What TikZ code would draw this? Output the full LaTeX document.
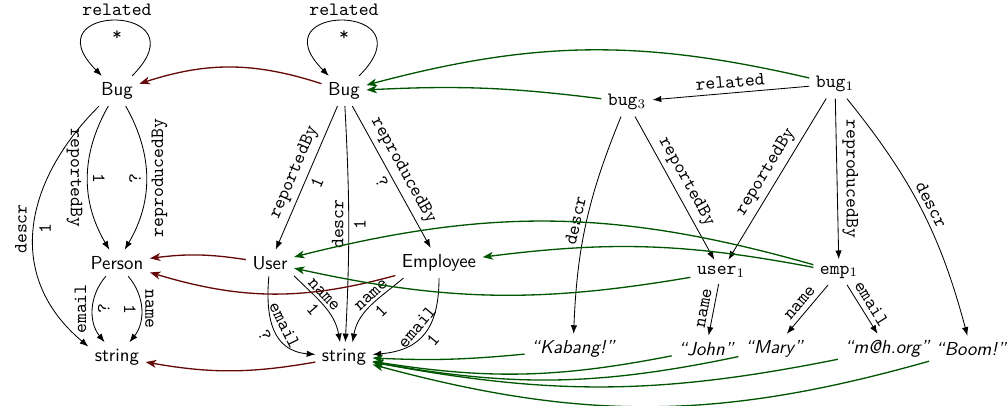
\documentclass[tikz,border=0pt]{standalone}
\usetikzlibrary{arrows.meta}
\definecolor{mapred}{RGB}{100,8,8}
\definecolor{mapgreen}{RGB}{0,85,0}
\begin{document}
\begin{tikzpicture}[x=0.5319pt,y=0.5319pt,
  ty/.style={font=\sffamily},
  obj/.style={font=\ttfamily},
  lit/.style={font=\sffamily\itshape},
  lab/.style={font=\ttfamily, inner sep=2.6pt},
  arr/.style={-{Latex[length=4.6pt,width=3.4pt]}, line width=0.45pt},
  tored/.style={-{Stealth[length=5.6pt,width=4.2pt,inset=1.6pt]}, draw=mapred, line width=0.7pt},
  togreen/.style={-{Stealth[length=5.6pt,width=4.2pt,inset=1.6pt]}, draw=mapgreen, line width=0.7pt},
]
\useasboundingbox (0,-405) rectangle (1007,0);

% schema on the left
\node[ty] (BugL)   at (117,-91)  {Bug};
\node[ty] (Person) at (117,-263) {Person};
\node[ty] (StrL)   at (117,-357) {string};

% schema in the middle
\node[ty] (BugM) at (344,-91)  {Bug};
\node[ty] (User) at (270,-263) {User};
\node[ty] (Emp)  at (439,-263) {Employee};
\node[ty] (StrM) at (344,-357) {string};

% objects
\node[obj] (bugC)  at (627,-102) {bug$_3$};
\node[obj] (bugA)  at (835,-84)  {bug$_1$};
\node[obj] (userA) at (721,-272) {user$_1$};
\node[obj] (empA)  at (839,-272) {emp$_1$};
\node[lit] (kab)   at (573,-349) {“Kabang!”};
\node[lit] (john)  at (706,-349) {“John”};
\node[lit] (mary)  at (774,-349) {“Mary”};
\node[lit] (mail)  at (887,-349) {“m@h.org”};
\node[lit] (boom)  at (971,-349) {“Boom!”};

% left schema edges
\draw[arr] (BugL.45) .. controls +(45:104) and +(135:104) .. (BugL.135)
  node[lab,pos=.5,above] {related} node[lab,pos=.5,below,yshift=-2.5pt] {*};
\draw[arr] (BugL) to[bend right=30]
  node[lab,pos=.5,rotate=-90,anchor=north] {reportedBy}
  node[lab,pos=.5,rotate=-90,anchor=south] {1} (Person);
\draw[arr] (BugL) to[bend left=30]
  node[lab,pos=.5,rotate=90,anchor=north] {reproducedBy}
  node[lab,pos=.5,rotate=90,anchor=south] {?} (Person);
\draw[arr] (BugL.-140) to[out=-135,in=140,looseness=1.15]
  node[lab,pos=.5,rotate=90,anchor=south,inner sep=3.6pt] {descr}
  node[lab,pos=.5,rotate=90,anchor=north] {1} (StrL.160);
\draw[arr] (Person) to[bend right=40]
  node[lab,pos=.5,rotate=90,anchor=south,inner sep=3.2pt] {email}
  node[lab,pos=.5,rotate=90,anchor=north] {?} (StrL);
\draw[arr] (Person) to[bend left=40]
  node[lab,pos=.5,rotate=-90,anchor=south,inner sep=2pt] {name}
  node[lab,pos=.5,rotate=-90,anchor=north] {1} (StrL);

% middle schema edges
\draw[arr] (BugM.45) .. controls +(45:104) and +(135:104) .. (BugM.135)
  node[lab,pos=.5,above] {related} node[lab,pos=.5,below,yshift=-2.5pt] {*};
\draw[arr] (BugM) -- node[lab,sloped,above] {reportedBy} node[lab,sloped,below] {1} (User);
\draw[arr] (BugM) to[bend left=3]
  node[lab,pos=.5,rotate=90,anchor=south] {descr}
  node[lab,pos=.5,rotate=90,anchor=north] {1} (StrM.85);
\draw[arr] (BugM) -- node[lab,sloped,above] {reproducedBy} node[lab,sloped,below] {?} (Emp);
\draw[arr] (User) to[out=-95,in=175,looseness=1.2]
  node[lab,sloped,above] {email} node[lab,sloped,below] {?} (StrM);
\draw[arr] (User.-28) to[out=-45,in=100]
  node[lab,sloped,above,pos=.4,inner sep=1.5pt] {name} node[lab,sloped,below,pos=.45,inner sep=2pt] {1} (StrM.105);
\draw[arr] (Emp.-157) to[out=-140,in=80]
  node[lab,sloped,above,pos=.4,inner sep=1.5pt] {name} node[lab,sloped,below,pos=.45,inner sep=2pt] {1} (StrM.60);
\draw[arr] (Emp) to[out=-90,in=5,looseness=1.25]
  node[lab,sloped,above,inner sep=2pt] {email} node[lab,sloped,below] {1} (StrM);

% object edges
\draw[arr] (bugA) -- node[lab,sloped,above] {related} (bugC);
\draw[arr] (bugC) to[bend right=10] node[lab,sloped,above] {descr} (kab);
\draw[arr] (bugC) -- node[lab,sloped,above] {reportedBy} (userA);
\draw[arr] (bugA) -- node[lab,sloped,above] {reportedBy} (userA);
\draw[arr] (bugA) -- node[lab,pos=.5,rotate=-90,anchor=south] {reproducedBy} (empA);
\draw[arr] (bugA) to[bend left=12] node[lab,sloped,above] {descr} (boom);
\draw[arr] (userA) -- node[lab,sloped,above] {name} (john);
\draw[arr] (empA) -- node[lab,sloped,above] {name} (mary);
\draw[arr] (empA) -- node[lab,sloped,above] {email} (mail);

% middle schema mapped onto the left schema
\draw[tored] (BugM) to[bend right=18] (BugL);
\draw[tored] (User) to[bend right=8] (Person);
\draw[tored] (Emp) to[bend left=16] (Person);
\draw[tored] (StrM) to[bend left=10] (StrL);

% objects typed by the middle schema
\draw[togreen] (bugA) to[bend right=14] (BugM);
\draw[togreen] (bugC) to[bend right=5] (BugM);
\draw[togreen] (empA) to[bend right=15] (User);
\draw[togreen] (empA) to[bend right=9] (Emp);
\draw[togreen] (userA) to[bend left=11] (User);
\draw[togreen] (kab) to[bend left=4] (StrM);
\draw[togreen] (john) to[bend left=10] (StrM);
\draw[togreen] (mary) to[bend left=11] (StrM);
\draw[togreen] (mail) to[bend left=11] (StrM);
\draw[togreen] (boom) to[bend left=15.5] (StrM);
\end{tikzpicture}
\end{document}
